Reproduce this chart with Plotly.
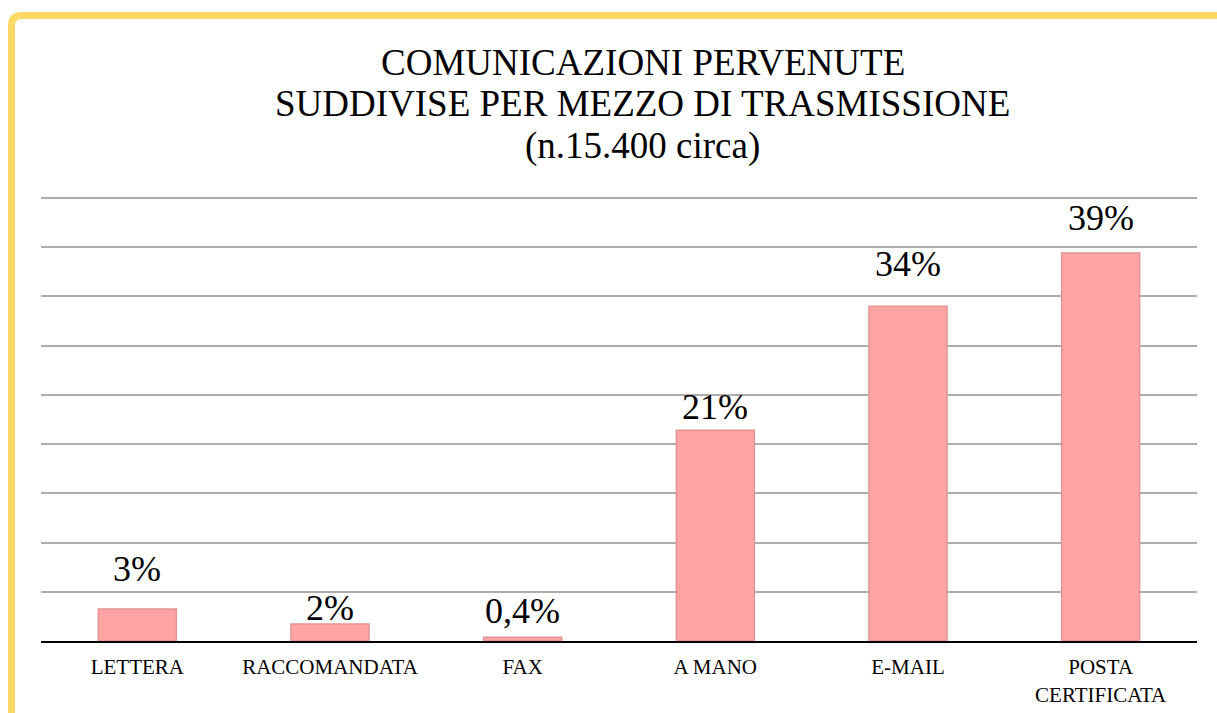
import plotly.graph_objects as go

categories = ["LETTERA", "RACCOMANDATA", "FAX", "A MANO", "E-MAIL", "POSTA<br>CERTIFICATA"]
values = [3.25, 1.73, 0.38, 21.4, 34.0, 39.4]
labels = ["3%", "2%", "0,4%", "21%", "34%", "39%"]
title_lines = [
    "COMUNICAZIONI PERVENUTE",
    "SUDDIVISE PER MEZZO DI TRASMISSIONE",
    "(n.15.400 circa)",
]
# labels in the original were nudged by hand, so each gets its own lift (px)
label_lift = [18, -6, 4, 1, 20, 13]

W, H = 1217, 713
M_L, M_R, M_T, M_B = 41, 20, 196, 72
PLOT_H = H - M_T - M_B
PLOT_W = W - M_L - M_R


def px_x(p):
    return (p - M_L) / PLOT_W


def px_y(p):
    return (H - M_B - p) / PLOT_H


FONT = "Liberation Serif, Times New Roman, serif"

fig = go.Figure(go.Bar(
    x=categories,
    y=values,
    marker=dict(color="#FFA3A3", line=dict(color="#E39494", width=1.5)),
    width=0.405,
    hoverinfo="x+y",
))

for cat, val, lab, lift in zip(categories, values, labels, label_lift):
    fig.add_annotation(
        x=cat, y=val, text=lab, showarrow=False,
        xanchor="center", yanchor="bottom", yshift=lift,
        font=dict(size=36, color="#000000", family=FONT),
    )

# title as three separate lines to control the line spacing
for i, line in enumerate(title_lines):
    fig.add_annotation(
        text=line, xref="paper", yref="paper",
        x=px_x(W / 2 + 34), y=px_y(62 + i * 42),
        xanchor="center", yanchor="middle", showarrow=False,
        font=dict(size=37, color="#000000", family=FONT),
    )

# yellow frame on top and left
x0, yt, r = px_x(11.5), px_y(15.5), 10
path = (
    f"M {x0},{px_y(H + 5)} L {x0},{px_y(15.5 + r)} "
    f"Q {x0},{yt} {px_x(11.5 + r)},{yt} L {px_x(W + 5)},{yt}"
)
fig.add_shape(type="path", path=path, xref="paper", yref="paper",
              line=dict(color="#FFD966", width=7))

fig.update_layout(
    width=W, height=H,
    margin=dict(l=M_L, r=M_R, t=M_T, b=M_B),
    paper_bgcolor="#FFFFFF",
    plot_bgcolor="#FFFFFF",
    showlegend=False,
    font=dict(family=FONT, color="#000000"),
)
fig.update_xaxes(
    showline=True, linecolor="#000000", linewidth=2,
    showgrid=False, ticks="", ticklabelstandoff=6, automargin=False,
    tickfont=dict(size=21, family=FONT, color="#000000"),
)
fig.update_yaxes(
    range=[0, 45.2], dtick=5, showticklabels=False, automargin=False,
    showgrid=True, gridcolor="#B0ACAC", gridwidth=2,
    zeroline=False, showline=False, ticks="",
)

fig.write_html(
    "out.html",
    config={"displayModeBar": False},
    post_script="document.body.style.margin='0';",
)
